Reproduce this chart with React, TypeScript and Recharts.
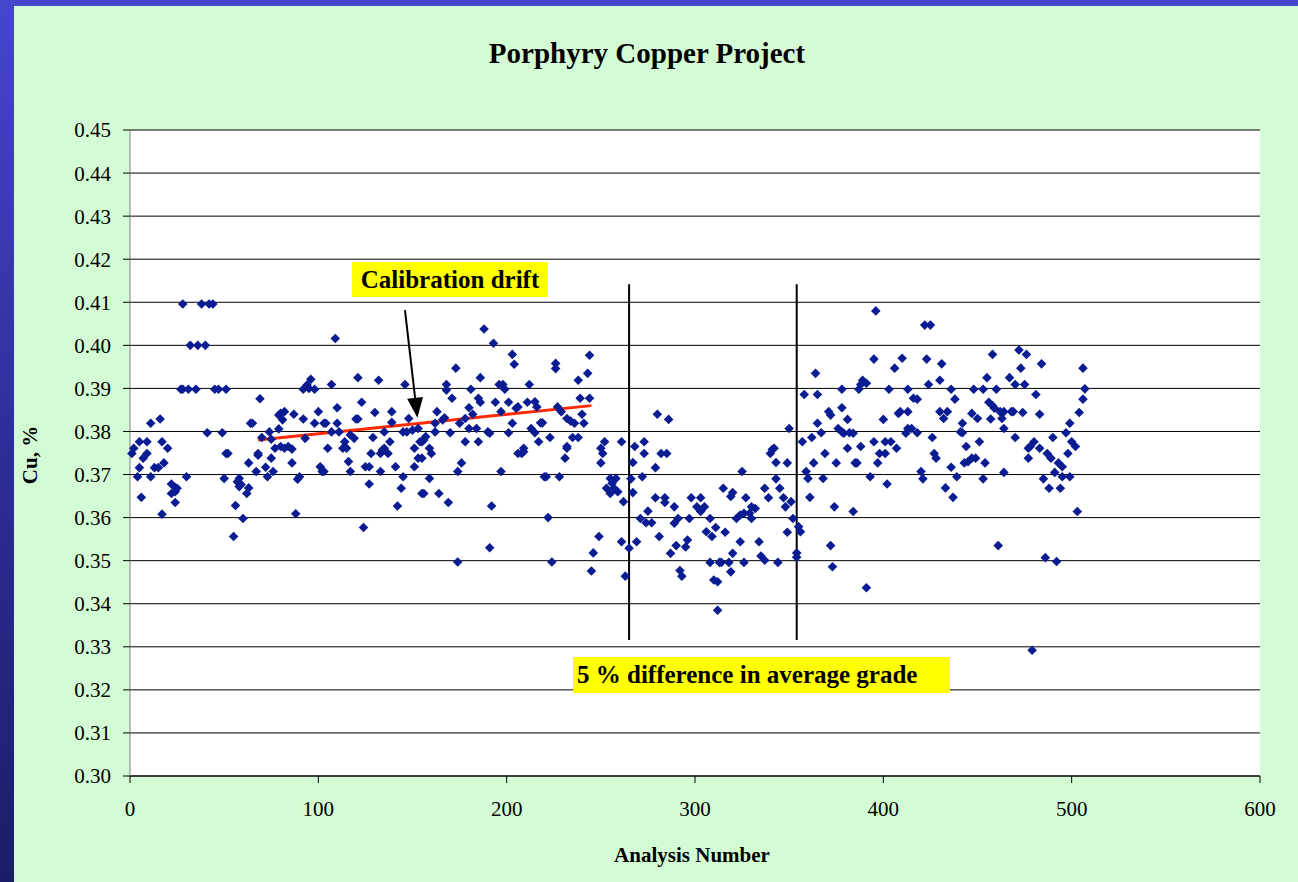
import React from 'react';
import {
  CartesianGrid,
  ReferenceLine,
  Scatter,
  ScatterChart,
  XAxis,
  YAxis,
} from 'recharts';

// [analysis number, Cu %], grouped by run
const firstRun: [number, number][] = [
  [28, 0.4096], [38, 0.4096], [42, 0.4096], [44, 0.4096], [32, 0.4], [36, 0.4], [40, 0.4],
  [27, 0.3898], [28, 0.3898], [31, 0.3898], [35, 0.3898], [45, 0.3898], [47, 0.3898], [51, 0.3898],
  [11, 0.3819], [16, 0.3829], [41, 0.3797], [49, 0.3797], [5, 0.3776], [9, 0.3776], [17, 0.3776],
  [2, 0.3761], [1, 0.3749], [20, 0.3761], [9, 0.3749], [7, 0.3738], [5, 0.3716], [13, 0.3716],
  [15, 0.3716], [18, 0.3727], [4, 0.3695], [11, 0.3695], [30, 0.3695], [50, 0.3691], [6, 0.3647],
  [22, 0.3678], [24, 0.367], [25, 0.3668], [22, 0.3656], [24, 0.366], [24, 0.3635], [17, 0.3608],
  [51, 0.3749],
  [69, 0.3876], [64, 0.3819], [65, 0.3819], [92, 0.3898], [94, 0.3908], [96, 0.3921], [98, 0.3898],
  [95, 0.39], [80, 0.3842], [82, 0.3846], [81, 0.3827], [79, 0.3838], [87, 0.384], [92, 0.3829],
  [100, 0.3846], [98, 0.3819], [103, 0.3819], [79, 0.3806], [74, 0.3799], [70, 0.3786], [75, 0.3782],
  [93, 0.3784], [52, 0.3749], [68, 0.3749], [68, 0.3745], [77, 0.3761], [80, 0.3765], [82, 0.3761],
  [84, 0.3765], [86, 0.3759], [75, 0.3738], [63, 0.3727], [86, 0.3727], [72, 0.3717], [67, 0.3707],
  [76, 0.3707], [73, 0.3695], [90, 0.3695], [89, 0.3689], [101, 0.3718], [102, 0.3707], [57, 0.3683],
  [58, 0.3691], [58, 0.3672], [59, 0.3677], [63, 0.3669], [62, 0.3656], [56, 0.3628], [60, 0.3598],
  [55, 0.3556], [88, 0.3609],
  [109, 0.4016], [107, 0.3909], [121, 0.3925], [132, 0.3919], [146, 0.3909], [110, 0.3855],
  [123, 0.3868], [130, 0.3844], [139, 0.3846], [104, 0.3819], [110, 0.3819], [120, 0.3829],
  [121, 0.3829], [139, 0.3821], [148, 0.383], [107, 0.3799], [111, 0.3799], [117, 0.3792],
  [119, 0.3784], [135, 0.3799], [145, 0.3799], [147, 0.3799], [150, 0.3803], [153, 0.3807],
  [105, 0.3761], [114, 0.3776], [113, 0.3761], [115, 0.3761], [129, 0.3786], [138, 0.3776],
  [154, 0.3776], [128, 0.3749], [133, 0.3749], [135, 0.3761], [137, 0.3749], [134, 0.3757],
  [151, 0.3761], [153, 0.3738], [116, 0.373], [125, 0.3718], [127, 0.3718], [117, 0.3707],
  [133, 0.3707], [141, 0.3718], [151, 0.3718], [103, 0.3707], [145, 0.3695], [127, 0.3678],
  [144, 0.3668], [155, 0.3656], [142, 0.3627], [124, 0.3577],
  [188, 0.4038], [193, 0.4005], [203, 0.3979], [204, 0.3956], [173, 0.3947], [186, 0.3925],
  [168, 0.3909], [168, 0.3896], [181, 0.3898], [196, 0.3909], [198, 0.3909], [199, 0.3898],
  [171, 0.3877], [185, 0.3877], [186, 0.3868], [194, 0.3868], [201, 0.3868], [205, 0.3854],
  [180, 0.3855], [197, 0.3846], [163, 0.3846], [182, 0.384], [167, 0.3832], [166, 0.3827],
  [162, 0.3819], [178, 0.383], [175, 0.3819], [203, 0.3819], [180, 0.3807], [184, 0.3807],
  [190, 0.3799], [191, 0.3796], [170, 0.3797], [201, 0.3797], [162, 0.3799], [157, 0.3788],
  [155, 0.3776], [156, 0.378], [178, 0.3776], [185, 0.3776], [159, 0.3761], [160, 0.3749],
  [155, 0.3738], [176, 0.3727], [174, 0.3707], [197, 0.3707], [206, 0.3749], [159, 0.3691],
  [156, 0.3656], [164, 0.3656], [169, 0.3635], [192, 0.3627], [191, 0.353], [174, 0.3497],
  [244, 0.3977], [243, 0.3935], [238, 0.3919], [226, 0.3958], [226, 0.3946], [212, 0.3909],
  [239, 0.3877], [244, 0.3877], [211, 0.3868], [215, 0.3869], [216, 0.3857], [206, 0.3857],
  [227, 0.3857], [229, 0.3846], [240, 0.384], [232, 0.383], [234, 0.3824], [236, 0.3819],
  [241, 0.3819], [218, 0.382], [219, 0.382], [213, 0.3807], [215, 0.3797], [217, 0.3776],
  [223, 0.3786], [235, 0.3786], [238, 0.3786], [232, 0.3765], [232, 0.3761], [231, 0.3738],
  [209, 0.3761], [208, 0.3749], [209, 0.3753], [252, 0.3776], [250, 0.3761], [251, 0.3749],
  [250, 0.3727], [220, 0.3695], [221, 0.3695], [228, 0.3695], [222, 0.36], [249, 0.3556],
  [224, 0.3497], [245, 0.3476], [246, 0.3518],
  [261, 0.3776], [255, 0.3691], [258, 0.3691], [256, 0.368], [253, 0.3668], [255, 0.3656],
  [257, 0.3668], [259, 0.366], [262, 0.3637], [261, 0.3544], [263, 0.3464],
];

const middleRun: [number, number][] = [
  [280, 0.384], [286, 0.3828], [268, 0.3765], [273, 0.3776], [273, 0.3749], [282, 0.3749],
  [285, 0.3749], [267, 0.3728], [279, 0.3716], [266, 0.369], [267, 0.3658], [272, 0.3695],
  [279, 0.3646], [284, 0.3646], [284, 0.3635], [289, 0.3625], [298, 0.3646], [303, 0.3646],
  [301, 0.3625], [305, 0.3625], [303, 0.3614], [275, 0.3615], [271, 0.3598], [274, 0.3588],
  [277, 0.3588], [291, 0.3598], [289, 0.3587], [297, 0.3598], [308, 0.3598], [306, 0.3567],
  [309, 0.3556], [311, 0.3577], [281, 0.3556], [265, 0.3529], [269, 0.3544], [290, 0.3535],
  [287, 0.3517], [296, 0.3548], [295, 0.3532], [308, 0.3496], [313, 0.3496], [292, 0.3477],
  [293, 0.3464], [310, 0.3455], [312, 0.3451], [312, 0.3385],
  [350, 0.3807], [341, 0.3758], [342, 0.3761], [340, 0.3749], [343, 0.3728], [349, 0.3727],
  [325, 0.3707], [343, 0.369], [315, 0.3668], [320, 0.3658], [319, 0.3649], [327, 0.3646],
  [337, 0.3668], [345, 0.3668], [339, 0.3646], [347, 0.3646], [348, 0.3625], [351, 0.3637],
  [330, 0.3625], [332, 0.3621], [329, 0.361], [326, 0.361], [322, 0.3598], [324, 0.3606],
  [330, 0.3598], [316, 0.3566], [352, 0.3598], [349, 0.3566], [324, 0.3544], [334, 0.3544],
  [320, 0.3517], [335, 0.3511], [337, 0.3501], [354, 0.3518], [354, 0.3508], [314, 0.3496],
  [318, 0.3496], [326, 0.3496], [344, 0.3496], [319, 0.3474],
];

const lastRun: [number, number][] = [
  [355, 0.3579], [356, 0.3567],
  [396, 0.408], [395, 0.3968], [410, 0.397], [406, 0.3947], [364, 0.3935], [389, 0.3919],
  [388, 0.3909], [391, 0.3912], [387, 0.3898], [358, 0.3886], [365, 0.3886], [378, 0.3898],
  [403, 0.3898], [378, 0.3855], [371, 0.3846], [372, 0.3838], [381, 0.3828], [365, 0.3819],
  [367, 0.3797], [400, 0.3828], [408, 0.3842], [409, 0.3846], [376, 0.3807], [378, 0.3799],
  [379, 0.3796], [382, 0.3797], [384, 0.3796], [362, 0.3786], [357, 0.3776], [381, 0.3761],
  [388, 0.3765], [395, 0.3776], [401, 0.3776], [404, 0.3776], [407, 0.3761], [369, 0.3749],
  [398, 0.3749], [401, 0.3749], [363, 0.3727], [375, 0.3727], [385, 0.3727], [386, 0.3727],
  [397, 0.3727], [359, 0.3707], [360, 0.3691], [368, 0.3691], [393, 0.3695], [402, 0.3678],
  [361, 0.3647], [374, 0.3625], [384, 0.3614], [372, 0.3535], [373, 0.3486], [391, 0.3437],
  [422, 0.4047], [425, 0.4047], [423, 0.3968], [431, 0.3957], [458, 0.3979], [455, 0.3925],
  [424, 0.3909], [430, 0.3919], [413, 0.3898], [436, 0.3898], [448, 0.3898], [453, 0.3898],
  [460, 0.3898], [416, 0.3877], [418, 0.3875], [438, 0.3875], [456, 0.3868], [458, 0.386],
  [459, 0.3854], [413, 0.3846], [430, 0.3846], [432, 0.383], [434, 0.3846], [447, 0.3842],
  [450, 0.383], [457, 0.3829], [442, 0.3819], [441, 0.3799], [442, 0.3797], [413, 0.3807],
  [415, 0.3807], [418, 0.3797], [412, 0.3796], [426, 0.3786], [451, 0.3776], [444, 0.3765],
  [427, 0.3749], [428, 0.3738], [443, 0.3727], [445, 0.373], [447, 0.3738], [449, 0.3738],
  [454, 0.3727], [436, 0.3717], [420, 0.3707], [421, 0.369], [439, 0.3695], [453, 0.369],
  [433, 0.3669], [437, 0.3647], [461, 0.3535],
  [472, 0.3989], [476, 0.3979], [484, 0.3957], [473, 0.3947], [467, 0.3925], [470, 0.3909],
  [475, 0.3909], [506, 0.3947], [507, 0.3899], [506, 0.3875], [481, 0.3886], [504, 0.3844],
  [462, 0.3846], [464, 0.3846], [468, 0.3846], [469, 0.3846], [474, 0.3844], [483, 0.384],
  [463, 0.383], [499, 0.3819], [464, 0.3807], [497, 0.3797], [470, 0.3786], [490, 0.3786],
  [480, 0.3776], [478, 0.3765], [477, 0.3761], [500, 0.3776], [502, 0.3765], [483, 0.3761],
  [487, 0.3749], [489, 0.3738], [498, 0.3749], [477, 0.3738], [493, 0.3727], [495, 0.3718],
  [464, 0.3705], [491, 0.3705], [495, 0.3695], [499, 0.3695], [485, 0.369], [488, 0.3668],
  [494, 0.3668], [503, 0.3614], [486, 0.3507], [492, 0.3498], [479, 0.3292],
];

const xTicks = [0, 100, 200, 300, 400, 500, 600];
const yTicks = [
  0.3, 0.31, 0.32, 0.33, 0.34, 0.35, 0.36, 0.37, 0.38, 0.39, 0.4, 0.41, 0.42, 0.43, 0.44, 0.45,
];

// annotation anchors, in data units
const driftLine = [{ x: 68, y: 0.378 }, { x: 245, y: 0.386 }];
const driftArrow = [{ x: 146, y: 0.4082 }, { x: 152.6, y: 0.3832 }];
const runBreaks = [265, 354];
const breakSpan = [0.3316, 0.4142];

const points = [...firstRun, ...middleRun, ...lastRun].map(([analysis, cu]) => ({ analysis, cu }));

const serif = '"Liberation Serif", "Times New Roman", serif';

const Diamond = (props: any) => {
  const { cx, cy } = props;
  if (cx == null || cy == null) return null;
  const r = 4.8;
  return (
    <polygon
      points={`${cx},${cy - r} ${cx + r},${cy} ${cx},${cy + r} ${cx - r},${cy}`}
      fill="#0a1c92"
    />
  );
};

const Arrow = (props: any) => {
  const { x1, y1, x2, y2 } = props;
  const ang = Math.atan2(y2 - y1, x2 - x1);
  const len = 20;
  const half = 8;
  const bx = x2 - len * Math.cos(ang);
  const by = y2 - len * Math.sin(ang);
  const px = -Math.sin(ang) * half;
  const py = Math.cos(ang) * half;
  return (
    <g>
      <line x1={x1} y1={y1} x2={bx} y2={by} stroke="#000" strokeWidth={2} />
      <polygon points={`${x2},${y2} ${bx + px},${by + py} ${bx - px},${by - py}`} fill="#000" />
    </g>
  );
};

const Note = ({ left, top, width, height, children, align = 'center' }: any) => (
  <div
    style={{
      position: 'absolute',
      left,
      top,
      width,
      height,
      background: '#ffff00',
      display: 'flex',
      alignItems: 'center',
      justifyContent: align === 'center' ? 'center' : 'flex-start',
      paddingLeft: align === 'center' ? 0 : 4,
      boxSizing: 'border-box',
      fontFamily: serif,
      fontWeight: 'bold',
      fontSize: 25,
      color: '#000',
      whiteSpace: 'nowrap',
    }}
  >
    {children}
  </div>
);

export default function App() {
  return (
    <div
      style={{
        position: 'absolute',
        left: 0,
        top: 0,
        width: 1298,
        height: 882,
        overflow: 'hidden',
        background: 'linear-gradient(to bottom, #4646cc 0%, #2e2e9a 50%, #1c1c66 100%)',
      }}
    >
      <div style={{ position: 'absolute', left: 14, top: 6, right: 0, bottom: 0, background: '#d4fcd4' }} />

      <div
        style={{
          position: 'absolute',
          left: 0,
          width: 1298,
          top: 35,
          textAlign: 'center',
          fontFamily: serif,
          fontWeight: 'bold',
          fontSize: 29,
          lineHeight: '36px',
          color: '#000',
        }}
      >
        <span style={{ position: 'relative', left: -2 }}>Porphyry Copper Project</span>
      </div>

      <div style={{ position: 'absolute', left: 0, top: 0 }}>
        <ScatterChart width={1298} height={882} margin={{ top: 130, right: 38, bottom: 66, left: 60 }}>
          <CartesianGrid vertical={false} stroke="#000" fill="#ffffff" fillOpacity={1} />
          <XAxis
            type="number"
            dataKey="analysis"
            domain={[0, 600]}
            ticks={xTicks}
            height={40}
            tickSize={7}
            tickMargin={18}
            stroke="#000"
            tick={{ fill: '#000', fontSize: 21, fontFamily: serif }}
          />
          <YAxis
            type="number"
            dataKey="cu"
            domain={[0.3, 0.45]}
            ticks={yTicks}
            width={70}
            tickSize={7}
            tickMargin={12}
            stroke="#808080"
            tickLine={{ stroke: '#000' }}
            tickFormatter={(v: number) => v.toFixed(2)}
            tick={{ fill: '#000', fontSize: 21, fontFamily: serif }}
          />
          <Scatter data={points} shape={Diamond} fill="#0a1c92" isAnimationActive={false} />
          <ReferenceLine segment={driftLine} stroke="#ff2a00" strokeWidth={3} ifOverflow="visible" />
          {runBreaks.map((x) => (
            <ReferenceLine
              key={x}
              segment={[{ x, y: breakSpan[0] }, { x, y: breakSpan[1] }]}
              stroke="#000"
              strokeWidth={2}
              ifOverflow="visible"
            />
          ))}
          <ReferenceLine segment={driftArrow} shape={Arrow} ifOverflow="visible" />
        </ScatterChart>
      </div>

      <div
        style={{
          position: 'absolute',
          left: 30,
          top: 455,
          transform: 'translate(-50%, -50%) rotate(-90deg)',
          fontFamily: serif,
          fontWeight: 'bold',
          fontSize: 21,
          whiteSpace: 'nowrap',
          color: '#000',
        }}
      >
        Cu, %
      </div>
      <div
        style={{
          position: 'absolute',
          left: 692,
          top: 855,
          transform: 'translate(-50%, -50%)',
          fontFamily: serif,
          fontWeight: 'bold',
          fontSize: 21,
          whiteSpace: 'nowrap',
          color: '#000',
        }}
      >
        Analysis Number
      </div>

      <Note left={352} top={262} width={196} height={35}>Calibration drift</Note>
      <Note left={573} top={657} width={377} height={36} align="left">5 % difference in average grade</Note>
    </div>
  );
}
